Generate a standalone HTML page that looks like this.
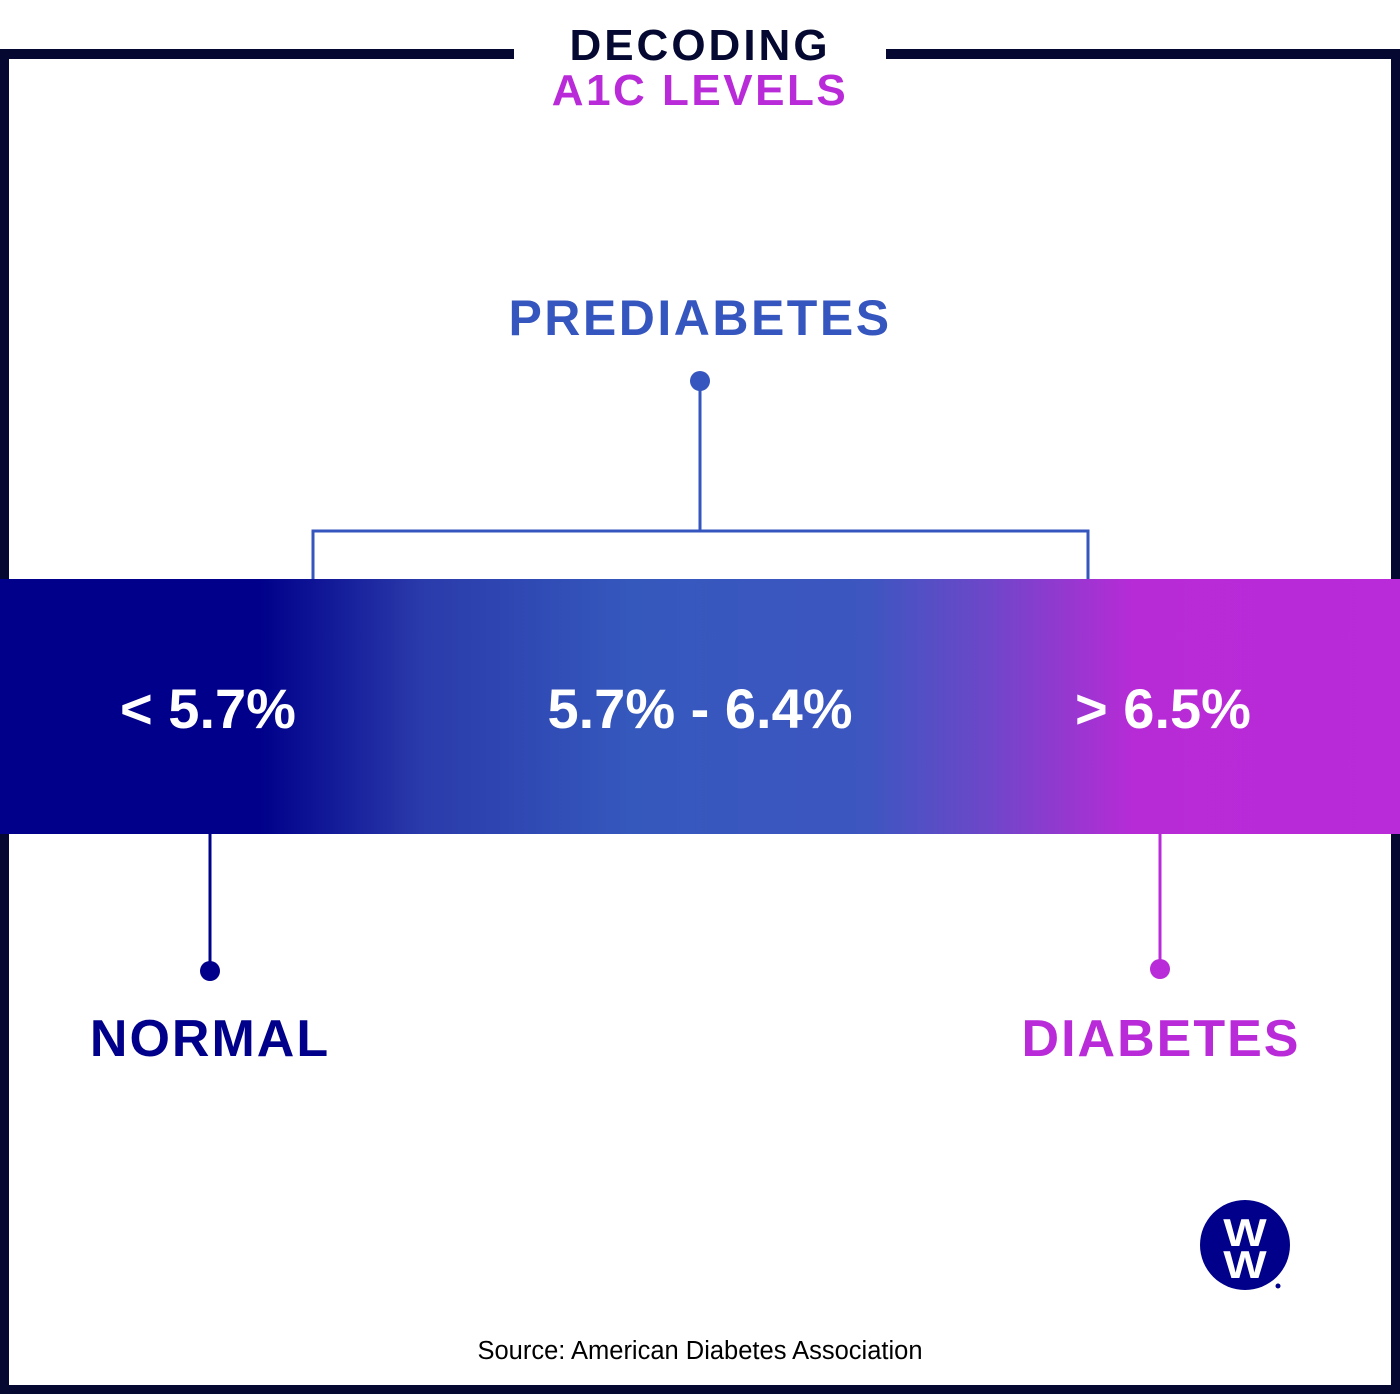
<!DOCTYPE html>
<html><head><meta charset="utf-8"><style>
html,body{margin:0;padding:0;background:#fff;}
svg{display:block;}
text{font-family:"Liberation Sans","DejaVu Sans",sans-serif;font-weight:bold;}
</style></head><body>
<svg width="1400" height="1400" viewBox="0 0 1400 1400" xmlns="http://www.w3.org/2000/svg">
<defs>
<linearGradient id="g" x1="0" y1="0" x2="1400" y2="0" gradientUnits="userSpaceOnUse">
<stop offset="0" stop-color="#00008a"/>
<stop offset="0.185" stop-color="#00008a"/>
<stop offset="0.3" stop-color="#2a3aaa"/>
<stop offset="0.45" stop-color="#3558bd"/>
<stop offset="0.62" stop-color="#3d56c0"/>
<stop offset="0.7" stop-color="#6a48c8"/>
<stop offset="0.81" stop-color="#b72bd6"/>
<stop offset="1" stop-color="#b92ad8"/>
</linearGradient>
</defs>
<path d="M0 49 H514 V59 H9 V1385 H1391 V59 H886 V49 H1400 V1394 H0 Z" fill="#050830"/>
<text x="700" y="60" text-anchor="middle" font-size="44" fill="#050830" letter-spacing="3">DECODING</text>
<text x="700" y="105" text-anchor="middle" font-size="44" fill="#b92ad8" letter-spacing="2.5">A1C LEVELS</text>
<text x="700" y="335" text-anchor="middle" font-size="50" fill="#3656bf" letter-spacing="2.5">PREDIABETES</text>
<circle cx="700" cy="381" r="10" fill="#3656bf"/>
<path d="M700 381 V530 M313 579 V531 H1088 V579" stroke="#3656bf" stroke-width="3" fill="none"/>
<rect x="0" y="579" width="1400" height="255" fill="url(#g)"/>
<text x="208" y="728" text-anchor="middle" font-size="56" fill="#fff">&lt; 5.7%</text>
<text x="700" y="728" text-anchor="middle" font-size="56" fill="#fff">5.7% - 6.4%</text>
<text x="1163" y="728" text-anchor="middle" font-size="56" fill="#fff">&gt; 6.5%</text>
<path d="M210 834 V970" stroke="#00008a" stroke-width="3"/>
<circle cx="210" cy="971" r="10" fill="#00008a"/>
<path d="M1160 834 V969" stroke="#b92ad8" stroke-width="3"/>
<circle cx="1160" cy="969" r="10" fill="#b92ad8"/>
<text x="210" y="1056" text-anchor="middle" font-size="52" fill="#00008a" letter-spacing="2">NORMAL</text>
<text x="1161" y="1056" text-anchor="middle" font-size="52" fill="#b92ad8" letter-spacing="2">DIABETES</text>
<circle cx="1245" cy="1245" r="45" fill="#00008a"/>
<g transform="translate(1245,1246) scale(1,0.85)"><text x="0" y="0" text-anchor="middle" font-size="46" fill="#fff">W</text></g>
<g transform="translate(1245,1278) scale(1,0.85)"><text x="0" y="0" text-anchor="middle" font-size="46" fill="#fff">W</text></g>
<circle cx="1278" cy="1286" r="2.5" fill="#00008a"/>
<text x="700" y="1359" text-anchor="middle" font-size="25.5" fill="#000" style="font-weight:normal">Source: American Diabetes Association</text>
</svg>
</body></html>
